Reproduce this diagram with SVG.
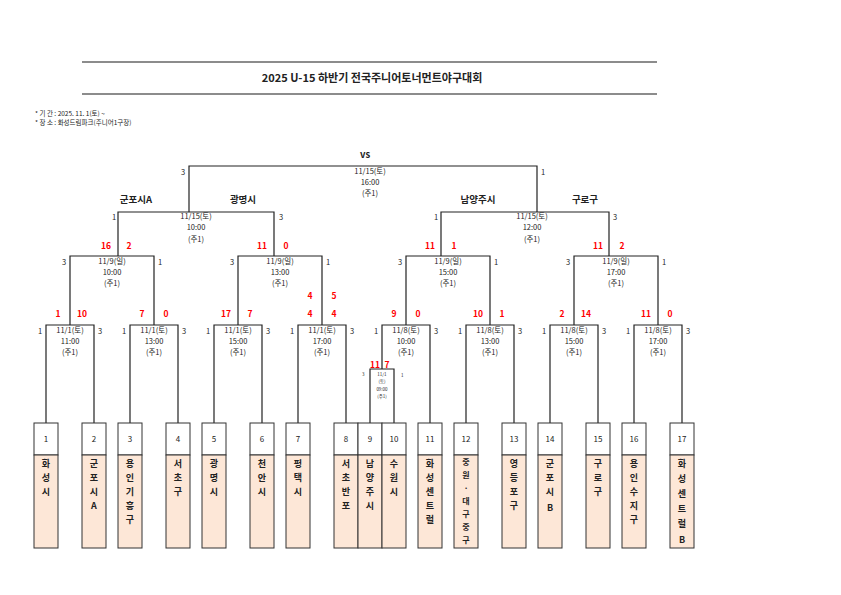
<svg xmlns="http://www.w3.org/2000/svg" width="841" height="595" viewBox="0 0 841 595">
<style>
text{font-family:"Noto Sans CJK KR","Noto Sans",sans-serif;fill:#222}
.t{font-size:7.5px;text-anchor:middle}
.n{font-size:7.5px}
.s{font-size:8.5px;font-weight:bold;fill:#f00;text-anchor:middle}
.tm{font-size:9.5px;font-weight:bold;text-anchor:middle}
.nm{font-size:9px;font-weight:bold;text-anchor:middle}
.num{font-size:8px;text-anchor:middle}
.b{fill:none;stroke:#222;stroke-width:1.2}
.nb{fill:#fff;stroke:#333;stroke-width:1}
.pb{fill:#fde7d7;stroke:#333;stroke-width:1}
</style>
<rect width="841" height="595" fill="#fff"/>
<line x1="82" y1="62" x2="657" y2="62" stroke="#666" stroke-width="1.5"/>
<line x1="82" y1="94" x2="657" y2="94" stroke="#666" stroke-width="1.5"/>
<text x="372" y="82" style="font-size:11px;font-weight:bold;text-anchor:middle">2025 U-15 하반기 전국주니어토너먼트야구대회</text>
<text x="35" y="116" style="font-size:6.5px">* 기    간 : 2025. 11. 1(토) ~</text>
<text x="35" y="125" style="font-size:6.5px">* 장    소 : 화성드림파크(주니어1구장)</text>

<g id="connectors">
<path class="b" d="M189,212 V166 H537 V212"/>
<path class="b" d="M118,256 V212 H274 V256"/>
<path class="b" d="M441,256 V212 H609 V256"/>
<path class="b" d="M70,325 V256 H154 V325"/>
<path class="b" d="M238,325 V256 H322 V325"/>
<path class="b" d="M406,325 V256 H490 V325"/>
<path class="b" d="M574,325 V256 H658 V325"/>
<path class="b" d="M46,423 V325 H94 V423"/>
<path class="b" d="M130,423 V325 H178 V423"/>
<path class="b" d="M214,423 V325 H262 V423"/>
<path class="b" d="M298,423 V325 H346 V423"/>
<path class="b" d="M382,369 V325 H430 V423"/>
<path class="b" d="M370,423 V369 H394 V423"/>
<path class="b" d="M466,423 V325 H514 V423"/>
<path class="b" d="M550,423 V325 H598 V423"/>
<path class="b" d="M634,423 V325 H682 V423"/>
</g>

<g id="final">
<text x="365" y="158" style="font-size:9.5px;font-weight:bold;text-anchor:middle">vs</text>
<text class="t" x="370" y="174">11/15(토)</text><text class="t" x="370" y="185">16:00</text><text class="t" x="370" y="196">(주1)</text>
<text class="n" x="181" y="175">3</text><text class="n" x="541" y="175">1</text>
</g>
<g id="semis">
<text class="tm" x="136" y="203">군포시A</text><text class="tm" x="243" y="203">광명시</text>
<text class="tm" x="478" y="203">남양주시</text><text class="tm" x="585" y="203">구로구</text>
<text class="n" x="112" y="220">1</text><text class="n" x="279" y="220">3</text>
<text class="t" x="196" y="219">11/15(토)</text><text class="t" x="196" y="230">10:00</text><text class="t" x="196" y="242">(주1)</text>
<text class="n" x="434" y="220">1</text><text class="n" x="613" y="220">3</text>
<text class="t" x="532" y="219">11/15(토)</text><text class="t" x="532" y="230">12:00</text><text class="t" x="532" y="242">(주1)</text>
<text class="s" x="106" y="249">16</text><text class="s" x="129" y="249">2</text>
<text class="s" x="262" y="249">11</text><text class="s" x="286" y="249">0</text>
<text class="s" x="430" y="249">11</text><text class="s" x="454" y="249">1</text>
<text class="s" x="598" y="249">11</text><text class="s" x="622" y="249">2</text>
</g>
<g id="quarters">
<text class="n" x="62" y="265">3</text><text class="n" x="158" y="265">1</text>
<text class="t" x="112" y="264">11/9(일)</text><text class="t" x="112" y="275">10:00</text><text class="t" x="112" y="286">(주1)</text>
<text class="n" x="230" y="265">3</text><text class="n" x="326" y="265">1</text>
<text class="t" x="280" y="264">11/9(일)</text><text class="t" x="280" y="275">13:00</text><text class="t" x="280" y="286">(주1)</text>
<text class="n" x="398" y="265">3</text><text class="n" x="494" y="265">1</text>
<text class="t" x="448" y="264">11/9(일)</text><text class="t" x="448" y="275">15:00</text><text class="t" x="448" y="286">(주1)</text>
<text class="n" x="566" y="265">3</text><text class="n" x="662" y="265">1</text>
<text class="t" x="616" y="264">11/9(일)</text><text class="t" x="616" y="275">17:00</text><text class="t" x="616" y="286">(주1)</text>
<text class="s" x="58" y="317">1</text><text class="s" x="82" y="317">10</text>
<text class="s" x="142" y="317">7</text><text class="s" x="166" y="317">0</text>
<text class="s" x="226" y="317">17</text><text class="s" x="250" y="317">7</text>
<text class="s" x="310" y="299">4</text><text class="s" x="334" y="299">5</text>
<text class="s" x="310" y="317">4</text><text class="s" x="334" y="317">4</text>
<text class="s" x="394" y="317">9</text><text class="s" x="418" y="317">0</text>
<text class="s" x="478" y="317">10</text><text class="s" x="502" y="317">1</text>
<text class="s" x="562" y="317">2</text><text class="s" x="586" y="317">14</text>
<text class="s" x="646" y="317">11</text><text class="s" x="670" y="317">0</text>
</g>
<g id="round1">
<text class="n" x="38" y="334">1</text><text class="n" x="98" y="334">3</text>
<text class="t" x="70" y="333">11/1(토)</text><text class="t" x="70" y="344">11:00</text><text class="t" x="70" y="355">(주1)</text>
<text class="n" x="122" y="334">1</text><text class="n" x="182" y="334">3</text>
<text class="t" x="154" y="333">11/1(토)</text><text class="t" x="154" y="344">13:00</text><text class="t" x="154" y="355">(주1)</text>
<text class="n" x="206" y="334">1</text><text class="n" x="266" y="334">3</text>
<text class="t" x="238" y="333">11/1(토)</text><text class="t" x="238" y="344">15:00</text><text class="t" x="238" y="355">(주1)</text>
<text class="n" x="290" y="334">1</text><text class="n" x="350" y="334">3</text>
<text class="t" x="322" y="333">11/1(토)</text><text class="t" x="322" y="344">17:00</text><text class="t" x="322" y="355">(주1)</text>
<text class="n" x="374" y="334">1</text><text class="n" x="434" y="334">3</text>
<text class="t" x="406" y="333">11/8(토)</text><text class="t" x="406" y="344">10:00</text><text class="t" x="406" y="355">(주1)</text>
<text class="n" x="458" y="334">1</text><text class="n" x="518" y="334">3</text>
<text class="t" x="490" y="333">11/8(토)</text><text class="t" x="490" y="344">13:00</text><text class="t" x="490" y="355">(주1)</text>
<text class="n" x="542" y="334">1</text><text class="n" x="602" y="334">3</text>
<text class="t" x="574" y="333">11/8(토)</text><text class="t" x="574" y="344">15:00</text><text class="t" x="574" y="355">(주1)</text>
<text class="n" x="626" y="334">1</text><text class="n" x="686" y="334">3</text>
<text class="t" x="658" y="333">11/8(토)</text><text class="t" x="658" y="344">17:00</text><text class="t" x="658" y="355">(주1)</text>
<text class="s" x="375" y="368">11</text><text class="s" x="387" y="368">7</text>
<text style="font-size:4.5px" x="362" y="376">3</text><text style="font-size:4.5px" x="401" y="377">1</text>
<g style="font-size:4.5px;text-anchor:middle"><text x="382" y="376">11/1</text><text x="382" y="383">(토)</text><text x="382" y="391">09:00</text><text x="382" y="398">(주1)</text></g>
</g>

<g id="team1"><rect class="nb" x="34" y="423" width="24" height="32"/><rect class="pb" x="34" y="455" width="24" height="93"/><text class="num" x="46" y="442">1</text><text class="nm" x="46" y="467">화</text><text class="nm" x="46" y="481">성</text><text class="nm" x="46" y="495">시</text></g>
<g id="team2"><rect class="nb" x="82" y="423" width="24" height="32"/><rect class="pb" x="82" y="455" width="24" height="93"/><text class="num" x="94" y="442">2</text><text class="nm" x="94" y="467">군</text><text class="nm" x="94" y="481">포</text><text class="nm" x="94" y="495">시</text><text class="nm" x="94" y="509">A</text></g>
<g id="team3"><rect class="nb" x="118" y="423" width="24" height="32"/><rect class="pb" x="118" y="455" width="24" height="93"/><text class="num" x="130" y="442">3</text><text class="nm" x="130" y="467">용</text><text class="nm" x="130" y="481">인</text><text class="nm" x="130" y="495">기</text><text class="nm" x="130" y="509">흥</text><text class="nm" x="130" y="523">구</text></g>
<g id="team4"><rect class="nb" x="166" y="423" width="24" height="32"/><rect class="pb" x="166" y="455" width="24" height="93"/><text class="num" x="178" y="442">4</text><text class="nm" x="178" y="467">서</text><text class="nm" x="178" y="481">초</text><text class="nm" x="178" y="495">구</text></g>
<g id="team5"><rect class="nb" x="202" y="423" width="24" height="32"/><rect class="pb" x="202" y="455" width="24" height="93"/><text class="num" x="214" y="442">5</text><text class="nm" x="214" y="467">광</text><text class="nm" x="214" y="481">명</text><text class="nm" x="214" y="495">시</text></g>
<g id="team6"><rect class="nb" x="250" y="423" width="24" height="32"/><rect class="pb" x="250" y="455" width="24" height="93"/><text class="num" x="262" y="442">6</text><text class="nm" x="262" y="467">천</text><text class="nm" x="262" y="481">안</text><text class="nm" x="262" y="495">시</text></g>
<g id="team7"><rect class="nb" x="286" y="423" width="24" height="32"/><rect class="pb" x="286" y="455" width="24" height="93"/><text class="num" x="298" y="442">7</text><text class="nm" x="298" y="467">평</text><text class="nm" x="298" y="481">택</text><text class="nm" x="298" y="495">시</text></g>
<g id="team8"><rect class="nb" x="334" y="423" width="24" height="32"/><rect class="pb" x="334" y="455" width="24" height="93"/><text class="num" x="346" y="442">8</text><text class="nm" x="346" y="467">서</text><text class="nm" x="346" y="481">초</text><text class="nm" x="346" y="495">반</text><text class="nm" x="346" y="509">포</text></g>
<g id="team9"><rect class="nb" x="358" y="423" width="24" height="32"/><rect class="pb" x="358" y="455" width="24" height="93"/><text class="num" x="370" y="442">9</text><text class="nm" x="370" y="467">남</text><text class="nm" x="370" y="481">양</text><text class="nm" x="370" y="495">주</text><text class="nm" x="370" y="509">시</text></g>
<g id="team10"><rect class="nb" x="382" y="423" width="24" height="32"/><rect class="pb" x="382" y="455" width="24" height="93"/><text class="num" x="394" y="442">10</text><text class="nm" x="394" y="467">수</text><text class="nm" x="394" y="481">원</text><text class="nm" x="394" y="495">시</text></g>
<g id="team11"><rect class="nb" x="418" y="423" width="24" height="32"/><rect class="pb" x="418" y="455" width="24" height="93"/><text class="num" x="430" y="442">11</text><text class="nm" x="430" y="467">화</text><text class="nm" x="430" y="481">성</text><text class="nm" x="430" y="495">센</text><text class="nm" x="430" y="509">트</text><text class="nm" x="430" y="523">럴</text></g>
<g id="team12"><rect class="nb" x="454" y="423" width="24" height="32"/><rect class="pb" x="454" y="455" width="24" height="93"/><text class="num" x="466" y="442">12</text><g style="font-size:8px;font-weight:bold;text-anchor:middle"><text x="466" y="465">중</text><text x="466" y="478">원</text><text x="466" y="491">·</text><text x="466" y="504">대</text><text x="466" y="517">구</text><text x="466" y="530">중</text><text x="466" y="543">구</text></g></g>
<g id="team13"><rect class="nb" x="502" y="423" width="24" height="32"/><rect class="pb" x="502" y="455" width="24" height="93"/><text class="num" x="514" y="442">13</text><text class="nm" x="514" y="467">영</text><text class="nm" x="514" y="481">등</text><text class="nm" x="514" y="495">포</text><text class="nm" x="514" y="509">구</text></g>
<g id="team14"><rect class="nb" x="538" y="423" width="24" height="32"/><rect class="pb" x="538" y="455" width="24" height="93"/><text class="num" x="550" y="442">14</text><text class="nm" x="550" y="467">군</text><text class="nm" x="550" y="481">포</text><text class="nm" x="550" y="495">시</text><text class="nm" x="550" y="511">B</text></g>
<g id="team15"><rect class="nb" x="586" y="423" width="24" height="32"/><rect class="pb" x="586" y="455" width="24" height="93"/><text class="num" x="598" y="442">15</text><text class="nm" x="598" y="467">구</text><text class="nm" x="598" y="481">로</text><text class="nm" x="598" y="495">구</text></g>
<g id="team16"><rect class="nb" x="622" y="423" width="24" height="32"/><rect class="pb" x="622" y="455" width="24" height="93"/><text class="num" x="634" y="442">16</text><text class="nm" x="634" y="467">용</text><text class="nm" x="634" y="481">인</text><text class="nm" x="634" y="495">수</text><text class="nm" x="634" y="509">지</text><text class="nm" x="634" y="523">구</text></g>
<g id="team17"><rect class="nb" x="670" y="423" width="24" height="32"/><rect class="pb" x="670" y="455" width="24" height="93"/><text class="num" x="682" y="442">17</text><text class="nm" x="682" y="467">화</text><text class="nm" x="682" y="482">성</text><text class="nm" x="682" y="497">센</text><text class="nm" x="682" y="512">트</text><text class="nm" x="682" y="527">럴</text><text class="nm" x="682" y="543">B</text></g>
</svg>
